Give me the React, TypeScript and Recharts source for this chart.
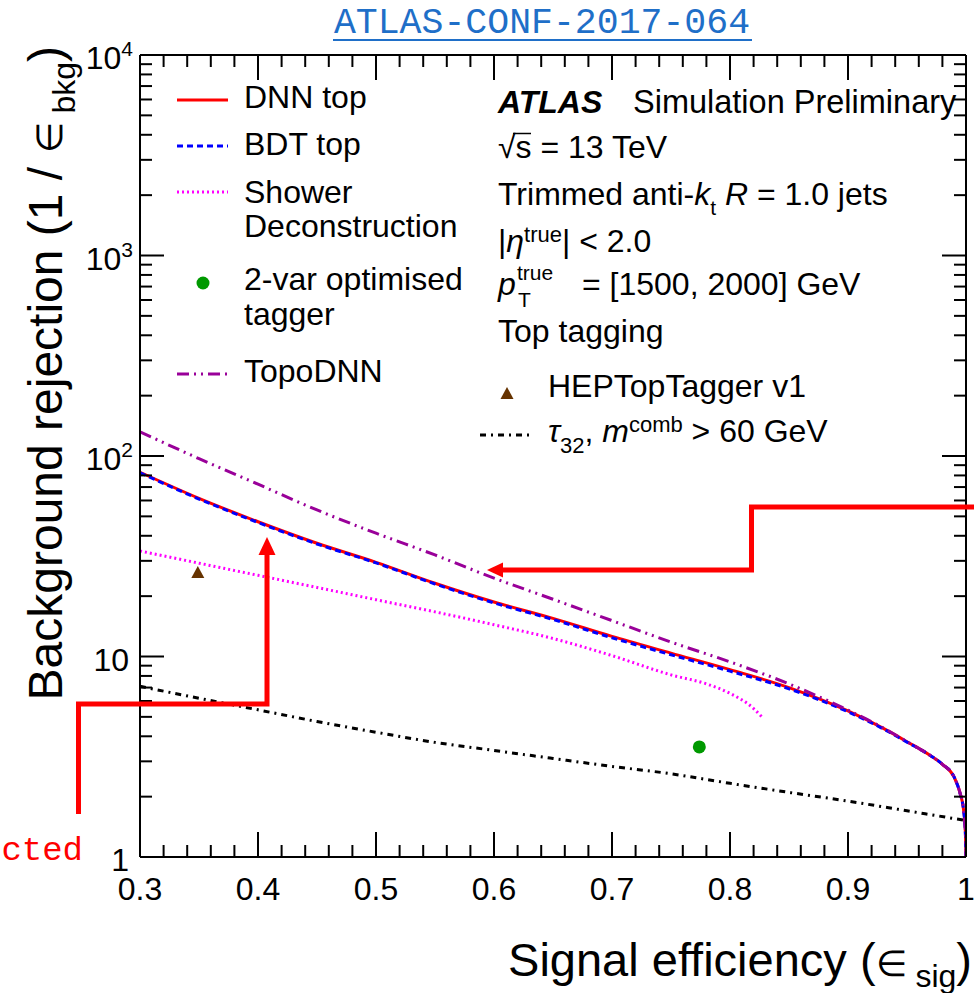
import React from 'react';
import { ComposedChart, Line, Scatter, XAxis, YAxis } from 'recharts';

// values (pT 1500-2000 GeV)
const dnnEff = [0.3, 0.35, 0.4, 0.45, 0.5, 0.55, 0.6, 0.65, 0.7, 0.75, 0.8, 0.85, 0.9, 0.93, 0.95, 0.97, 0.98, 0.99, 0.995, 0.998, 0.9995, 1.0];
const dnnRej = [83, 61.5, 47, 36.7, 29.5, 23.2, 18.7, 15.5, 12.6, 10.4, 8.6, 7.0, 5.35, 4.38, 3.76, 3.2, 2.9, 2.5, 2.08, 1.71, 1.32, 1.0];
const bdtRej = [82.5, 61, 46.6, 36.4, 29.3, 23.0, 18.5, 15.3, 12.4, 10.2, 8.45, 6.9, 5.3, 4.35, 3.74, 3.2, 2.9, 2.5, 2.07, 1.7, 1.3, 1.0];
const topoRej = [132, 97, 72.3, 53.8, 41.2, 32.1, 24.6, 19.3, 15.1, 11.8, 9.4, 7.3, 5.4, 4.4, 3.76, 3.2, 2.9, 2.5, 2.08, 1.71, 1.32, 1.0];
const showerEff = [0.3, 0.35, 0.4, 0.45, 0.5, 0.55, 0.6, 0.65, 0.7, 0.75, 0.78, 0.8, 0.82, 0.827];
const showerRej = [33.6, 29.2, 25.4, 22.1, 19.2, 16.7, 14.4, 12.3, 10.1, 8.1, 7.3, 6.55, 5.5, 5.0];
const tauEff = [0.3, 0.35, 0.4, 0.45, 0.5, 0.55, 0.6, 0.65, 0.7, 0.75, 0.8, 0.85, 0.9, 0.95, 1.0];
const tauRej = [7.1, 6.19, 5.42, 4.74, 4.19, 3.73, 3.4, 3.1, 2.83, 2.6, 2.33, 2.1, 1.9, 1.7, 1.52];
const hepTopTagger = [{ x: 0.349, y: 26.4 }];
const twoVarTagger = [{ x: 0.774, y: 3.54 }];

const xMajor = [0.3, 0.4, 0.5, 0.6, 0.7, 0.8, 0.9, 1.0];
const xLabels = ['0.3', '0.4', '0.5', '0.6', '0.7', '0.8', '0.9', '1'];
const yDecades = [1, 10, 100, 1000, 10000];
const yMinorSteps = [2, 3, 4, 5, 6, 7, 8, 9];

const xTicks = xMajor.flatMap((m, i) =>
  i === xMajor.length - 1 ? [m] : [m, ...[1, 2, 3, 4].map((k) => +(m + 0.02 * k).toFixed(2))]
);
const yTicks = yDecades.flatMap((d) => (d === 10000 ? [d] : [d, ...yMinorSteps.map((s) => d * s)]));

const zip = (xs: number[], ys: number[]) => xs.map((x, i) => ({ x, y: ys[i] }));

const SANS = '"Liberation Sans", Arial, Helvetica, sans-serif';
const MONO = '"Liberation Mono", "Courier New", monospace';
const FRAME = { stroke: '#000', strokeWidth: 2 };

const majorIdx = (v: number) => xMajor.findIndex((m) => Math.abs(m - v) < 1e-6);

const BottomTick = (p: any) => {
  const { x, y, payload } = p;
  const i = majorIdx(payload.value);
  return (
    <g>
      <line x1={x} x2={x} y1={y} y2={y - (i >= 0 ? 25 : 12)} stroke="#000" strokeWidth={2} />
      {i >= 0 && (
        <text x={x} y={y + 43} textAnchor="middle" fontSize={32} fontFamily={SANS} fill="#000">
          {xLabels[i]}
        </text>
      )}
    </g>
  );
};

const TopTick = (p: any) => {
  const { x, y, payload } = p;
  const len = majorIdx(payload.value) >= 0 ? 25 : 12;
  return <line x1={x} x2={x} y1={y} y2={y + len} stroke="#000" strokeWidth={2} />;
};

const LeftTick = (p: any) => {
  const { x, y, payload } = p;
  const v = payload.value;
  const dec = yDecades.indexOf(v);
  let label: React.ReactNode = null;
  if (dec === 0 || dec === 1) {
    label = (
      <text x={x - 11} y={y + 14} textAnchor="end" fontSize={32} fontFamily={SANS} fill="#000">
        {dec === 0 ? '1' : '10'}
      </text>
    );
  } else if (dec > 1) {
    label = (
      <text x={x - 7} y={y + 14} textAnchor="end" fontSize={32} fontFamily={SANS} fill="#000">
        10<tspan dy={-13} fontSize={21}>{dec}</tspan>
      </text>
    );
  }
  return (
    <g>
      <line x1={x} x2={x + (dec >= 0 ? 24 : 12)} y1={y} y2={y} stroke="#000" strokeWidth={2} />
      {label}
    </g>
  );
};

const RightTick = (p: any) => {
  const { x, y, payload } = p;
  const len = yDecades.includes(payload.value) ? 24 : 12;
  return <line x1={x} x2={x - len} y1={y} y2={y} stroke="#000" strokeWidth={2} />;
};

const Dot = (p: any) => <circle cx={p.cx} cy={p.cy} r={6.5} fill="#009900" />;
const Tri = (p: any) => (
  <polygon points={`${p.cx - 6.5},${p.cy + 6} ${p.cx + 6.5},${p.cy + 6} ${p.cx},${p.cy - 6}`} fill="#663300" />
);

const DASH_BDT = '6 4';
const DASH_SHOWER = '2 3';
const DASH_TOPO = '12 5 2 5 2 5';
const DASH_TAU = '6 5 2 5';

export default function App() {
  return (
    <div style={{ position: 'absolute', left: 0, top: 0, width: 974, height: 993, background: '#fff' }}>
      <ComposedChart width={974} height={993} margin={{ top: 45, right: 0, bottom: 76, left: 80 }}>
        <XAxis
          xAxisId="b"
          type="number"
          dataKey="x"
          domain={[0.3, 1]}
          allowDataOverflow
          ticks={xTicks}
          interval={0}
          tickLine={false}
          tickSize={0}
          tickMargin={0}
          tick={BottomTick}
          axisLine={FRAME}
          height={60}
        />
        <XAxis
          xAxisId="t"
          orientation="top"
          type="number"
          dataKey="x"
          domain={[0.3, 1]}
          allowDataOverflow
          ticks={xTicks}
          interval={0}
          tickLine={false}
          tickSize={0}
          tickMargin={0}
          tick={TopTick}
          axisLine={FRAME}
          height={10}
        />
        <YAxis
          yAxisId="l"
          type="number"
          dataKey="y"
          scale="log"
          domain={[1, 10000]}
          allowDataOverflow
          ticks={yTicks}
          interval={0}
          tickLine={false}
          tickSize={0}
          tickMargin={0}
          tick={LeftTick}
          axisLine={FRAME}
          width={60}
        />
        <YAxis
          yAxisId="r"
          orientation="right"
          type="number"
          dataKey="y"
          scale="log"
          domain={[1, 10000]}
          allowDataOverflow
          ticks={yTicks}
          interval={0}
          tickLine={false}
          tickSize={0}
          tickMargin={0}
          tick={RightTick}
          axisLine={FRAME}
          width={8}
        />
        <Line xAxisId="b" yAxisId="l" data={zip(tauEff, tauRej)} dataKey="y" type="monotoneX" stroke="#000" strokeWidth={3} strokeDasharray={DASH_TAU} dot={false} isAnimationActive={false} />
        <Line xAxisId="b" yAxisId="l" data={zip(showerEff, showerRej)} dataKey="y" type="monotoneX" stroke="#ff00ff" strokeWidth={3} strokeDasharray={DASH_SHOWER} dot={false} isAnimationActive={false} />
        <Line xAxisId="b" yAxisId="l" data={zip(dnnEff, dnnRej)} dataKey="y" type="monotoneX" stroke="#ff0000" strokeWidth={3} dot={false} isAnimationActive={false} />
        <Line xAxisId="b" yAxisId="l" data={zip(dnnEff, bdtRej)} dataKey="y" type="monotoneX" stroke="#0000ff" strokeWidth={3} strokeDasharray={DASH_BDT} dot={false} isAnimationActive={false} />
        <Line xAxisId="b" yAxisId="l" data={zip(dnnEff, topoRej)} dataKey="y" type="monotoneX" stroke="#990099" strokeWidth={3} strokeDasharray={DASH_TOPO} dot={false} isAnimationActive={false} />
        <Scatter xAxisId="b" yAxisId="l" data={twoVarTagger} dataKey="y" shape={Dot} isAnimationActive={false} />
        <Scatter xAxisId="b" yAxisId="l" data={hepTopTagger} dataKey="y" shape={Tri} isAnimationActive={false} />
      </ComposedChart>

      <svg width={974} height={993} style={{ position: 'absolute', left: 0, top: 0, pointerEvents: 'none' }} fontFamily={SANS} fill="#000">
        {/* header link */}
        <text x={542} y={33} textAnchor="middle" fontFamily={MONO} fontSize={36.5} fill="#1f6fc8">ATLAS-CONF-2017-064</text>
        <line x1={333} x2={752} y1={40} y2={40} stroke="#1f6fc8" strokeWidth={2} />

        {/* axis titles */}
        <text transform="translate(62,46) rotate(-90)" textAnchor="end" fontSize={48}>
          Background rejection (1 / <tspan fontSize={36}>∈</tspan><tspan dy={13} fontSize={32}> bkg</tspan><tspan dy={-13}>)</tspan>
        </text>
        <text x={972} y={976} textAnchor="end" fontSize={47}>
          Signal efficiency (<tspan fontSize={36}>∈</tspan><tspan dy={11} fontSize={32}> sig</tspan><tspan dy={-11}>)</tspan>
        </text>

        {/* left legend */}
        <line x1={177} x2={228} y1={100} y2={100} stroke="#ff0000" strokeWidth={3} />
        <text x={244} y={108} fontSize={32}>DNN top</text>
        <line x1={177} x2={228} y1={146} y2={146} stroke="#0000ff" strokeWidth={3} strokeDasharray={DASH_BDT} />
        <text x={244} y={155} fontSize={32}>BDT top</text>
        <line x1={177} x2={228} y1={192} y2={192} stroke="#ff00ff" strokeWidth={3} strokeDasharray={DASH_SHOWER} />
        <text x={244} y={203} fontSize={32}>Shower</text>
        <text x={244} y={237} fontSize={32}>Deconstruction</text>
        <circle cx={203} cy={283} r={6.5} fill="#009900" />
        <text x={244} y={290} fontSize={32}>2-var optimised</text>
        <text x={244} y={325} fontSize={32}>tagger</text>
        <line x1={177} x2={228} y1={374} y2={374} stroke="#990099" strokeWidth={3} strokeDasharray={DASH_TOPO} />
        <text x={244} y={382} fontSize={32}>TopoDNN</text>

        {/* right block */}
        <text x={498} y={113} fontSize={32} fontWeight="bold" fontStyle="italic">ATLAS</text>
        <text x={633} y={113} fontSize={32.5}>Simulation Preliminary</text>
        <text x={498} y={158} fontSize={32}>√s = 13 TeV</text>
        <line x1={513} x2={531} y1={133.5} y2={133.5} stroke="#000" strokeWidth={1.5} />
        <text x={498} y={205} fontSize={32}>
          Trimmed anti-<tspan fontStyle="italic">k</tspan><tspan dy={10} fontSize={21}>t</tspan>
          <tspan dy={-10}> </tspan><tspan fontStyle="italic">R</tspan> = 1.0 jets
        </text>
        <text x={498} y={252} fontSize={32}>
          |<tspan fontStyle="italic">η</tspan><tspan dy={-10} fontSize={22}>true</tspan><tspan dy={10}>| &lt; 2.0</tspan>
        </text>
        <text x={498} y={295} fontSize={32} fontStyle="italic">p</text>
        <text x={517} y={280} fontSize={21}>true</text>
        <text x={518} y={307} fontSize={21}>T</text>
        <text x={582} y={295} fontSize={32}>= [1500, 2000] GeV</text>
        <text x={498} y={342} fontSize={32}>Top tagging</text>
        <polygon points="500.5,399 513.5,399 507,387" fill="#663300" />
        <text x={548} y={397} fontSize={32}>HEPTopTagger v1</text>
        <line x1={480} x2={530} y1={435} y2={435} stroke="#000" strokeWidth={3} strokeDasharray={DASH_TAU} />
        <text x={548} y={442} fontSize={32}>
          <tspan fontStyle="italic">τ</tspan><tspan dy={11} fontSize={22}>32</tspan><tspan dy={-11}>, </tspan>
          <tspan fontStyle="italic">m</tspan><tspan dy={-10} fontSize={22}>comb</tspan><tspan dy={10}> &gt; 60 GeV</tspan>
        </text>

        {/* red annotations */}
        <polyline points="78.5,814 78.5,704 267,704 267,553" fill="none" stroke="#ff0000" strokeWidth={5} />
        <polygon points="258.5,555 275.5,555 267,537" fill="#ff0000" />
        <polyline points="974,507 751.5,507 751.5,570 501,570" fill="none" stroke="#ff0000" strokeWidth={5} />
        <polygon points="503,562.5 503,577.5 487,570" fill="#ff0000" />
        <text x={83} y={860} textAnchor="end" fontFamily={MONO} fontSize={34} fill="#ff0000">cted</text>
      </svg>
    </div>
  );
}
